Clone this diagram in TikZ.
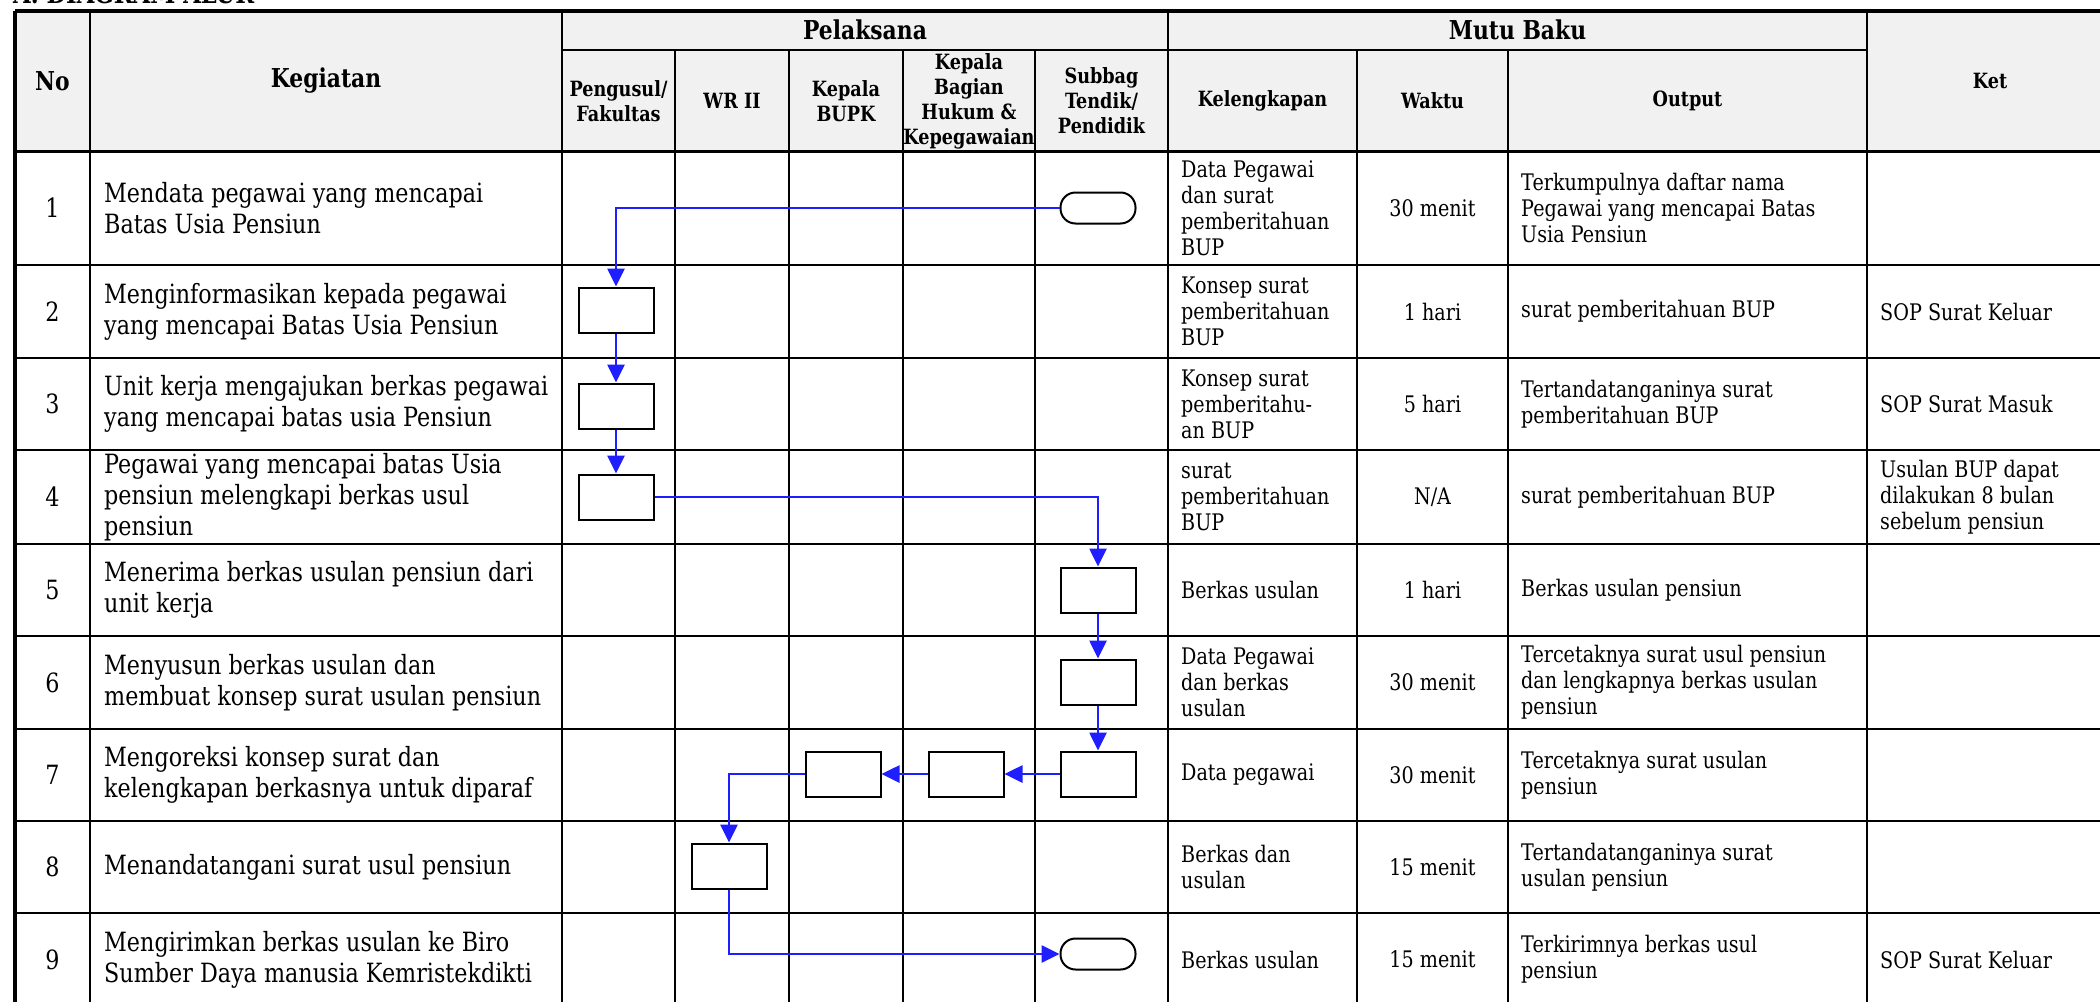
\documentclass[tikz,border=0pt]{standalone}
\usepackage{fontspec}
\setmainfont{DejaVu Serif}[FakeStretch=0.84]
\usetikzlibrary{arrows.meta}
\definecolor{flow}{RGB}{30,30,255}
\definecolor{hdrfill}{RGB}{241,241,241}

\begin{document}
\begin{tikzpicture}[x=1pt,y=-1pt]
\tikzstyle{proc} = [rectangle, draw=black, line width=2pt, minimum width=75pt, minimum height=45pt, inner sep=0pt]
\tikzstyle{term} = [rectangle, rounded corners=15pt, draw=black, line width=2pt, minimum width=75pt, minimum height=31pt, inner sep=0pt]
\tikzstyle{hdr} = [font=\bfseries\fontsize{26}{30}\selectfont, align=center, inner sep=0pt]
\tikzstyle{subhdr} = [font=\bfseries\fontsize{21}{25}\selectfont, align=center, inner sep=0pt]
\tikzstyle{kegtext} = [font=\fontsize{26.5}{31}\selectfont, align=left, anchor=west, inner sep=0pt]
\tikzstyle{mututext} = [font=\fontsize{22.8}{26}\selectfont, align=left, anchor=west, inner sep=0pt]
\tikzstyle{nomor} = [font=\fontsize{26.5}{31}\selectfont, inner sep=0pt]
\tikzstyle{waktu} = [font=\fontsize{22.8}{26}\selectfont, inner sep=0pt]
\tikzstyle{flowline} = [line width=2.7pt, draw=flow, -{Triangle[length=18pt,width=17pt]}]
\useasboundingbox (0,0) rectangle (2100,1001);
\clip (0,0) rectangle (2100,1001);
% header
\fill[hdrfill] (15,11) rectangle (2113,151);
\node[font=\bfseries\fontsize{27}{30}\selectfont, anchor=base west, inner sep=0pt] (judul) at (13,3.5) {A. DIAGRAM ALUR};
% grid
\draw[line width=3.6pt] (15,11) -- (2113,11) (15,11) -- (15,1006);
\draw[line width=3pt] (15,151) -- (2113,151);
\draw[line width=2.6pt] (562,50) -- (1867,50);
\draw[line width=2.6pt] (15,265) -- (2113,265) (15,358) -- (2113,358) (15,450) -- (2113,450)
  (15,544) -- (2113,544) (15,636) -- (2113,636) (15,729) -- (2113,729)
  (15,821) -- (2113,821) (15,913) -- (2113,913) (15,1006) -- (2113,1006);
\draw[line width=2.6pt] (90,11) -- (90,1006) (562,11) -- (562,1006) (1168,11) -- (1168,1006)
  (1867,11) -- (1867,1006) (2113,11) -- (2113,1006);
\draw[line width=2.6pt] (675,50) -- (675,1006) (789,50) -- (789,1006) (903,50) -- (903,1006)
  (1035,50) -- (1035,1006) (1357,50) -- (1357,1006) (1508,50) -- (1508,1006);
% header texts
\node[hdr] at (52.5,81) (hno) {No};
\node[hdr] at (326,81) (hkeg) {Kegiatan};
\node[hdr] at (865,30) (hpel) {Pelaksana};
\node[hdr] at (1517.5,30) (hmutu) {Mutu Baku};
\node[subhdr] at (618.5,101) (hpeng) {Pengusul/\\Fakultas};
\node[subhdr] at (732,101) (hwr) {WR II};
\node[subhdr] at (846,101) (hbupk) {Kepala\\BUPK};
\node[subhdr] at (969,101) (hhuk) {Kepala\\Bagian\\Hukum \&\\Kepegawaian};
\node[subhdr] at (1101.5,101) (hsub) {Subbag\\Tendik/\\Pendidik};
\node[subhdr] at (1262.5,101) (hkel) {Kelengkapan};
\node[subhdr] at (1432.5,101) (hwkt) {Waktu};
\node[subhdr] at (1687.5,101) (hout) {Output};
\node[subhdr] at (1990,81) (hket) {Ket};
% row 1
\node[nomor] at (52.5,208) (no1) {1};
\node[kegtext] at (104,208) (keg1) {Mendata pegawai yang mencapai\\Batas Usia Pensiun};
\node[mututext] at (1181,208) (kel1) {Data Pegawai\\dan surat\\pemberitahuan\\BUP};
\node[waktu] at (1432.5,208) (wkt1) {30 menit};
\node[mututext] at (1521,208) (out1) {Terkumpulnya daftar nama\\Pegawai yang mencapai Batas\\Usia Pensiun};
% row 2
\node[nomor] at (52.5,311.5) (no2) {2};
\node[kegtext] at (104,311.5) (keg2) {Menginformasikan kepada pegawai\\yang mencapai Batas Usia Pensiun};
\node[mututext] at (1181,311.5) (kel2) {Konsep surat\\pemberitahuan\\BUP};
\node[waktu] at (1432.5,311.5) (wkt2) {1 hari};
\node[mututext] at (1521,311.5) (out2) {surat pemberitahuan BUP};
\node[mututext] at (1880,311.5) (ket2) {SOP Surat Keluar};
% row 3
\node[nomor] at (52.5,404) (no3) {3};
\node[kegtext] at (104,404) (keg3) {Unit kerja mengajukan berkas pegawai\\yang mencapai batas usia Pensiun};
\node[mututext] at (1181,404) (kel3) {Konsep surat\\pemberitahu-\\an BUP};
\node[waktu] at (1432.5,404) (wkt3) {5 hari};
\node[mututext] at (1521,404) (out3) {Tertandatanganinya surat\\pemberitahuan BUP};
\node[mututext] at (1880,404) (ket3) {SOP Surat Masuk};
% row 4
\node[nomor] at (52.5,497) (no4) {4};
\node[kegtext] at (104,497) (keg4) {Pegawai yang mencapai batas Usia\\pensiun melengkapi berkas usul\\pensiun};
\node[mututext] at (1181,497) (kel4) {surat\\pemberitahuan\\BUP};
\node[waktu] at (1432.5,497) (wkt4) {N/A};
\node[mututext] at (1521,497) (out4) {surat pemberitahuan BUP};
\node[mututext] at (1880,497) (ket4) {Usulan BUP dapat\\dilakukan 8 bulan\\sebelum pensiun};
% row 5
\node[nomor] at (52.5,590) (no5) {5};
\node[kegtext] at (104,590) (keg5) {Menerima berkas usulan pensiun dari\\unit kerja};
\node[mututext] at (1181,590) (kel5) {Berkas usulan};
\node[waktu] at (1432.5,590) (wkt5) {1 hari};
\node[mututext] at (1521,590) (out5) {Berkas usulan pensiun};
% row 6
\node[nomor] at (52.5,682.5) (no6) {6};
\node[kegtext] at (104,682.5) (keg6) {Menyusun berkas usulan dan\\membuat konsep surat usulan pensiun};
\node[mututext] at (1181,682.5) (kel6) {Data Pegawai\\dan berkas\\usulan};
\node[waktu] at (1432.5,682.5) (wkt6) {30 menit};
\node[mututext] at (1521,682.5) (out6) {Tercetaknya surat usul pensiun\\dan lengkapnya berkas usulan\\pensiun};
% row 7
\node[nomor] at (52.5,775) (no7) {7};
\node[kegtext] at (104,775) (keg7) {Mengoreksi konsep surat dan\\kelengkapan berkasnya untuk diparaf};
\node[mututext] at (1181,775) (kel7) {Data pegawai};
\node[waktu] at (1432.5,775) (wkt7) {30 menit};
\node[mututext] at (1521,775) (out7) {Tercetaknya surat usulan\\pensiun};
% row 8
\node[nomor] at (52.5,867) (no8) {8};
\node[kegtext] at (104,867) (keg8) {Menandatangani surat usul pensiun};
\node[mututext] at (1181,867) (kel8) {Berkas dan\\usulan};
\node[waktu] at (1432.5,867) (wkt8) {15 menit};
\node[mututext] at (1521,867) (out8) {Tertandatanganinya surat\\usulan pensiun};
% row 9
\node[nomor] at (52.5,959.5) (no9) {9};
\node[kegtext] at (104,959.5) (keg9) {Mengirimkan berkas usulan ke Biro\\Sumber Daya manusia Kemristekdikti};
\node[mututext] at (1181,959.5) (kel9) {Berkas usulan};
\node[waktu] at (1432.5,959.5) (wkt9) {15 menit};
\node[mututext] at (1521,959.5) (out9) {Terkirimnya berkas usul\\pensiun};
\node[mututext] at (1880,959.5) (ket9) {SOP Surat Keluar};
% flow shapes
\node[term] at (1098,208) (s1) {};
\node[proc] at (616,310) (b2) {};
\node[proc] at (616,406) (b3) {};
\node[proc] at (616,497) (b4) {};
\node[proc] at (1098,590) (b5) {};
\node[proc] at (1098,682) (b6) {};
\node[proc] at (1098,774) (b7_0) {};
\node[proc] at (966,774) (b7_1) {};
\node[proc] at (843,774) (b7_2) {};
\node[proc] at (729,866) (b8) {};
\node[term] at (1098,954) (s9) {};
\draw[flowline] (s1) -| (b2);
\draw[flowline] (b2) -- (b3);
\draw[flowline] (b3) -- (b4);
\draw[flowline] (b4) -| (b5);
\draw[flowline] (b5) -- (b6);
\draw[flowline] (b6) -- (b7_0);
\draw[flowline] (b7_0) -- (b7_1);
\draw[flowline] (b7_1) -- (b7_2);
\draw[flowline] (b7_2) -| (b8);
\draw[flowline] (b8) |- (s9);
\end{tikzpicture}
\end{document}
